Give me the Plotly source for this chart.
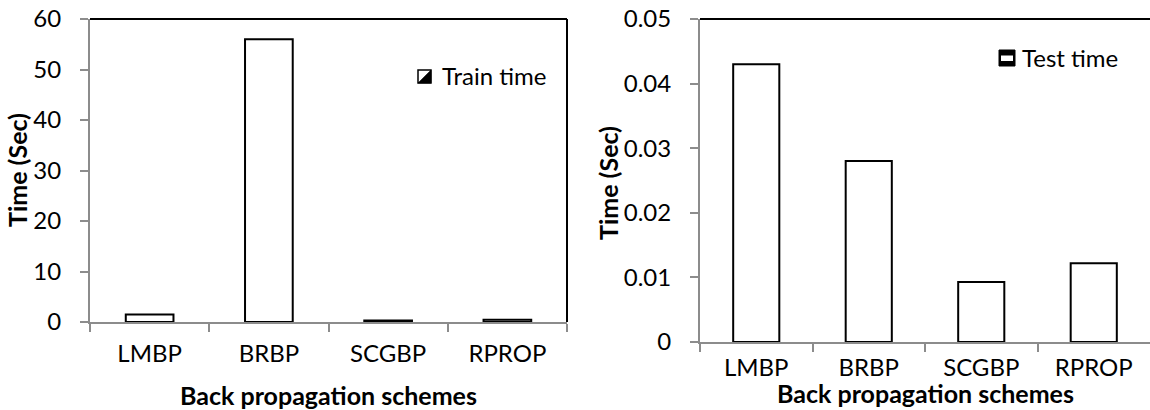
import plotly.graph_objects as go

categories = ["LMBP", "BRBP", "SCGBP", "RPROP"]
train_time = [1.5, 56.0, 0.3, 0.45]
test_time = [0.043, 0.028, 0.0093, 0.0122]
left_ticks = [0, 10, 20, 30, 40, 50, 60]
right_ticks = [0, 0.01, 0.02, 0.03, 0.04, 0.05]
right_tick_text = ["0", "0.01", "0.02", "0.03", "0.04", "0.05"]

W, H = 1150, 410
FONT = "Lato, Carlito, Calibri, sans-serif"
FS = 24
FT = 25
GRAY = "#8c8c8c"

fig = go.Figure()
fig.add_trace(go.Bar(x=categories, y=train_time, xaxis="x", yaxis="y",
                     marker=dict(color="white", line=dict(color="black", width=2)),
                     width=0.4, showlegend=False))
fig.add_trace(go.Bar(x=categories, y=test_time, xaxis="x2", yaxis="y2",
                     marker=dict(color="white", line=dict(color="black", width=2)),
                     width=0.41, showlegend=False))

def px(x):
    return x / W

def py(y):
    return 1 - y / H

xcommon = dict(type="category", showgrid=False, showline=True, linecolor=GRAY, linewidth=2,
               ticks="outside", ticklen=8, tickwidth=1.5, tickcolor=GRAY, tickson="boundaries",
               tickfont=dict(family=FONT, size=FS, color="black"),
               zeroline=False, fixedrange=True, automargin=False)
ycommon = dict(showgrid=False, showline=True, linecolor=GRAY, linewidth=2, ticks="outside",
               ticklen=8, tickwidth=1.5, tickcolor=GRAY,
               tickfont=dict(family=FONT, size=FS, color="black"), ticklabelstandoff=14,
               zeroline=False, automargin=False)

fig.update_layout(
    width=W, height=H, margin=dict(l=0, r=0, t=0, b=0),
    paper_bgcolor="white", plot_bgcolor="white", showlegend=False,
    xaxis=dict(domain=[px(90), px(567)], anchor="y", ticklabelstandoff=9, **xcommon),
    yaxis=dict(domain=[py(322), py(19)], anchor="x", range=[0, 60], tickvals=left_ticks, **ycommon),
    xaxis2=dict(domain=[px(700), 1.0], anchor="y2", ticklabelstandoff=3, **xcommon),
    yaxis2=dict(domain=[py(342), py(19)], anchor="x2", range=[0, 0.05], tickvals=right_ticks,
                ticktext=right_tick_text, **ycommon),
)

shapes = [
    dict(type="line", xref="x domain", yref="y domain", x0=0, x1=1, y0=1, y1=1,
         line=dict(color="black", width=2)),
    dict(type="line", xref="x domain", yref="y domain", x0=1, x1=1, y0=0, y1=1,
         line=dict(color="black", width=2)),
    dict(type="line", xref="x2 domain", yref="y2 domain", x0=0, x1=1, y0=1, y1=1,
         line=dict(color="black", width=2)),
]

# Train time icon: square with lower-right black triangle
lx0, lx1, ly0, ly1 = 418, 431, 70, 83
shapes.append(dict(type="rect", xref="paper", yref="paper", x0=px(lx0), x1=px(lx1),
                   y0=py(ly1), y1=py(ly0), line=dict(color="black", width=1.5), fillcolor="white"))
shapes.append(dict(type="path", xref="paper", yref="paper",
                   path=f"M {px(lx1)} {py(ly0)} L {px(lx1)} {py(ly1)} L {px(lx0)} {py(ly1)} Z",
                   fillcolor="black", line=dict(color="black", width=0.5)))
# Test time icon: black square with white horizontal middle band
tx0, tx1, ty0, ty1 = 999, 1015, 50, 66
shapes.append(dict(type="rect", xref="paper", yref="paper", x0=px(tx0), x1=px(tx1),
                   y0=py(ty1), y1=py(ty0), line=dict(color="black", width=1), fillcolor="black"))
shapes.append(dict(type="rect", xref="paper", yref="paper", x0=px(tx0 + 2), x1=px(tx1 - 2),
                   y0=py(ty0 + 11), y1=py(ty0 + 5.5), line=dict(width=0), fillcolor="white"))
fig.update_layout(shapes=shapes)

ann = [
    dict(text="Train time", x=px(440), y=py(76), xref="paper", yref="paper", xanchor="left",
         yanchor="middle", showarrow=False, font=dict(family=FONT, size=FS, color="black")),
    dict(text="Test time", x=px(1020), y=py(57), xref="paper", yref="paper", xanchor="left",
         yanchor="middle", showarrow=False, font=dict(family=FONT, size=FS, color="black")),
    dict(text="<b>Time (Sec)</b>", x=px(17), y=py(170), xref="paper", yref="paper", textangle=-90,
         xanchor="center", yanchor="middle", showarrow=False, font=dict(family=FONT, size=FT, color="black")),
    dict(text="<b>Time (Sec)</b>", x=px(608), y=py(183), xref="paper", yref="paper", textangle=-90,
         xanchor="center", yanchor="middle", showarrow=False, font=dict(family=FONT, size=FT, color="black")),
    dict(text="<b>Back propagation schemes</b>", x=px(328), y=py(395), xref="paper", yref="paper",
         xanchor="center", yanchor="middle", showarrow=False, font=dict(family=FONT, size=FT, color="black")),
    dict(text="<b>Back propagation schemes</b>", x=px(925), y=0, xref="paper", yref="paper",
         xanchor="center", yanchor="bottom", showarrow=False, font=dict(family=FONT, size=FT, color="black")),
]
fig.update_layout(annotations=ann)

fig.write_html("out.html", config={"displayModeBar": False},
               post_script="document.body.style.margin='0px';document.body.style.overflow='hidden';")
